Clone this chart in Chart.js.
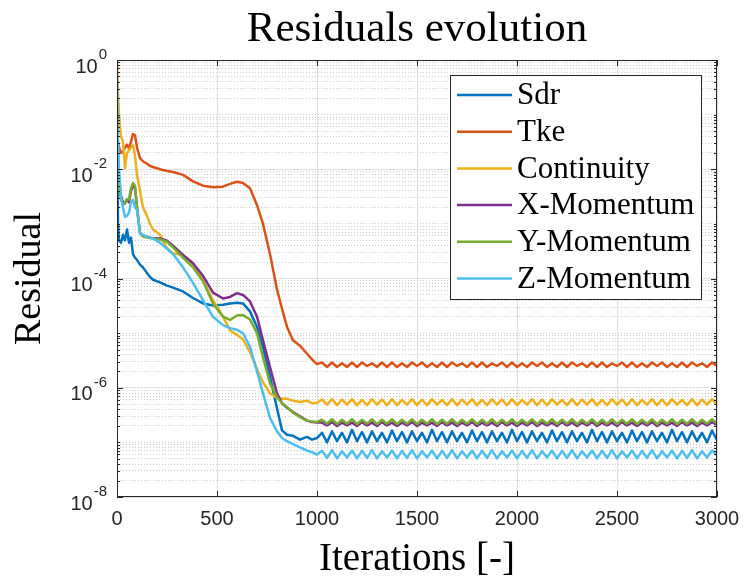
<!DOCTYPE html>
<html>
<head>
<meta charset="utf-8">
<script src="https://cdn.jsdelivr.net/npm/chart.js@4/dist/chart.umd.min.js"></script>
<style>
  html, body { margin: 0; padding: 0; background: #fff; }
  canvas { display: block; }
</style>
</head>
<body>
<canvas id="residuals" width="747" height="582"></canvas>
<script>
//DATA BELOW
const seriesNames = ['Sdr', 'Tke', 'Continuity', 'X-Momentum', 'Y-Momentum', 'Z-Momentum'];
const xTicks = [0, 500, 1000, 1500, 2000, 2500, 3000];
const yTickExponents = [0, -2, -4, -6, -8];

const iterations = [0, 5, 10, 20, 30, 40, 50, 60, 70, 80,
  90, 100, 115, 130, 150, 165, 180, 215, 250, 280,
  330, 380, 430, 480, 530, 565, 600, 630, 665, 700,
  730, 765, 800, 825, 850, 880, 915, 950, 975,
  1000, 1025, 1050, 1075, 1100, 1125, 1150, 1175, 1200, 1225,
  1250, 1275, 1300, 1325, 1350, 1375, 1400, 1425, 1450, 1475,
  1500, 1525, 1550, 1575, 1600, 1625, 1650, 1675, 1700, 1725,
  1750, 1775, 1800, 1825, 1850, 1875, 1900, 1925, 1950, 1975,
  2000, 2025, 2050, 2075, 2100, 2125, 2150, 2175, 2200, 2225,
  2250, 2275, 2300, 2325, 2350, 2375, 2400, 2425, 2450, 2475,
  2500, 2525, 2550, 2575, 2600, 2625, 2650, 2675, 2700, 2725,
  2750, 2775, 2800, 2825, 2850, 2875, 2900, 2925, 2950, 2975,
  3000];

const sdr = [4.0e-2, 1.0e-3, 5.0e-4, 4.5e-4, 6.3e-4, 5.0e-4, 7.9e-4, 4.5e-4, 5.6e-4, 2.8e-4,
  2.4e-4, 2.2e-4, 1.8e-4, 1.6e-4, 1.26e-4, 1.07e-4, 9.5e-5, 8.5e-5, 7.4e-5, 6.8e-5,
  5.8e-5, 4.4e-5, 3.5e-5, 3.2e-5, 3.3e-5, 3.5e-5, 3.6e-5, 3.5e-5, 2.5e-5, 1.3e-5,
  5.6e-6, 1.6e-6, 4.2e-7, 1.66e-7, 1.38e-7, 1.32e-7, 1.12e-7, 1.26e-7, 1.12e-7,
  1.2e-7, 1.5e-7, 1.0e-7, 1.6e-7, 1.05e-7, 1.5e-7, 1.0e-7, 1.7e-7, 1.05e-7, 1.55e-7,
  1.0e-7, 1.6e-7, 1.05e-7, 1.5e-7, 1.0e-7, 1.65e-7, 1.05e-7, 1.55e-7, 1.0e-7, 1.6e-7,
  1.05e-7, 1.5e-7, 1.0e-7, 1.7e-7, 1.05e-7, 1.55e-7, 1.0e-7, 1.6e-7, 1.05e-7, 1.5e-7,
  1.0e-7, 1.65e-7, 1.05e-7, 1.55e-7, 1.0e-7, 1.6e-7, 1.05e-7, 1.5e-7, 1.0e-7, 1.7e-7,
  1.05e-7, 1.55e-7, 1.0e-7, 1.6e-7, 1.05e-7, 1.5e-7, 1.0e-7, 1.65e-7, 1.05e-7, 1.55e-7,
  1.0e-7, 1.6e-7, 1.05e-7, 1.5e-7, 1.0e-7, 1.7e-7, 1.05e-7, 1.55e-7, 1.0e-7, 1.6e-7,
  1.05e-7, 1.5e-7, 1.0e-7, 1.65e-7, 1.05e-7, 1.55e-7, 1.0e-7, 1.6e-7, 1.05e-7, 1.5e-7,
  1.0e-7, 1.7e-7, 1.05e-7, 1.55e-7, 1.0e-7, 1.6e-7, 1.05e-7, 1.5e-7, 1.0e-7, 1.65e-7,
  1.1e-7];

const tke = [4.3e-2, 3.2e-2, 2.5e-2, 2.0e-2, 2.1e-2, 2.5e-2, 2.8e-2, 2.4e-2, 3.2e-2, 4.4e-2,
  4.2e-2, 2.5e-2, 1.6e-2, 1.4e-2, 1.26e-2, 1.15e-2, 1.1e-2, 1.0e-2, 9.3e-3, 8.9e-3,
  7.9e-3, 6.0e-3, 5.0e-3, 4.7e-3, 4.8e-3, 5.4e-3, 5.9e-3, 5.6e-3, 4.5e-3, 2.2e-3,
  1.0e-3, 2.8e-4, 6.3e-5, 2.8e-5, 1.3e-5, 7.4e-6, 5.9e-6, 4.2e-6, 3.3e-6,
  2.7e-6, 2.9e-6, 2.4e-6, 2.9e-6, 2.4e-6, 2.8e-6, 2.4e-6, 2.9e-6, 2.4e-6, 2.9e-6,
  2.5e-6, 2.8e-6, 2.4e-6, 2.9e-6, 2.4e-6, 2.9e-6, 2.4e-6, 2.8e-6, 2.4e-6, 2.9e-6,
  2.5e-6, 2.9e-6, 2.4e-6, 2.8e-6, 2.4e-6, 2.9e-6, 2.4e-6, 2.9e-6, 2.5e-6, 2.8e-6,
  2.4e-6, 2.9e-6, 2.4e-6, 2.9e-6, 2.4e-6, 2.8e-6, 2.5e-6, 2.9e-6, 2.4e-6, 2.9e-6,
  2.4e-6, 2.8e-6, 2.4e-6, 2.9e-6, 2.5e-6, 2.9e-6, 2.4e-6, 2.8e-6, 2.4e-6, 2.9e-6,
  2.4e-6, 2.9e-6, 2.5e-6, 2.8e-6, 2.4e-6, 2.9e-6, 2.4e-6, 2.9e-6, 2.4e-6, 2.8e-6,
  2.5e-6, 2.9e-6, 2.4e-6, 2.9e-6, 2.4e-6, 2.8e-6, 2.4e-6, 2.9e-6, 2.5e-6, 2.9e-6,
  2.4e-6, 2.8e-6, 2.4e-6, 2.9e-6, 2.4e-6, 2.9e-6, 2.5e-6, 2.8e-6, 2.4e-6, 2.9e-6,
  2.5e-6];

const continuity = [1.0, 2.5e-1, 1.0e-1, 4.0e-2, 3.2e-2, 1.05e-2, 2.0e-2, 2.2e-2, 2.5e-2, 2.75e-2,
  1.8e-2, 7.9e-3, 4.0e-3, 2.0e-3, 1.4e-3, 1.0e-3, 7.9e-4, 6.3e-4, 3.6e-4, 2.9e-4,
  2.7e-4, 1.9e-4, 9.3e-5, 4.0e-5, 2.0e-5, 1.12e-5, 9.3e-6, 7.6e-6, 4.5e-6, 2.2e-6,
  1.26e-6, 7.9e-7, 6.6e-7, 6.3e-7, 6.3e-7, 5.8e-7, 5.5e-7, 5.8e-7, 5.2e-7,
  5.3e-7, 6.1e-7, 4.9e-7, 6.2e-7, 4.8e-7, 6.1e-7, 4.9e-7, 6.2e-7, 4.8e-7, 6.0e-7,
  4.8e-7, 6.2e-7, 4.9e-7, 6.1e-7, 4.8e-7, 6.2e-7, 4.8e-7, 6.0e-7, 4.9e-7, 6.2e-7,
  4.8e-7, 6.1e-7, 4.8e-7, 6.2e-7, 4.9e-7, 6.0e-7, 4.8e-7, 6.2e-7, 4.8e-7, 6.1e-7,
  4.9e-7, 6.2e-7, 4.8e-7, 6.0e-7, 4.8e-7, 6.2e-7, 4.9e-7, 6.1e-7, 4.8e-7, 6.2e-7,
  4.8e-7, 6.0e-7, 4.9e-7, 6.2e-7, 4.8e-7, 6.1e-7, 4.8e-7, 6.2e-7, 4.9e-7, 6.0e-7,
  4.8e-7, 6.2e-7, 4.8e-7, 6.1e-7, 4.9e-7, 6.2e-7, 4.8e-7, 6.0e-7, 4.8e-7, 6.2e-7,
  4.9e-7, 6.1e-7, 4.8e-7, 6.2e-7, 4.8e-7, 6.0e-7, 4.9e-7, 6.2e-7, 4.8e-7, 6.1e-7,
  4.8e-7, 6.2e-7, 4.9e-7, 6.0e-7, 4.8e-7, 6.2e-7, 4.8e-7, 6.1e-7, 4.9e-7, 6.2e-7,
  5.0e-7];

const xMomentum = [1.0e-1, 1.6e-2, 6.3e-3, 3.2e-3, 2.5e-3, 2.4e-3, 2.8e-3, 2.5e-3, 4.0e-3, 5.0e-3,
  4.5e-3, 2.0e-3, 6.8e-4, 6.0e-4, 5.8e-4, 5.6e-4, 5.5e-4, 5.4e-4, 4.9e-4, 4.0e-4,
  2.7e-4, 1.9e-4, 1.12e-4, 5.5e-5, 4.3e-5, 4.6e-5, 5.4e-5, 5.0e-5, 3.8e-5, 2.0e-5,
  7.4e-6, 2.4e-6, 7.9e-7, 5.2e-7, 4.3e-7, 3.6e-7, 3.0e-7, 2.5e-7, 2.35e-7,
  2.3e-7, 2.3e-7, 2.05e-7, 2.35e-7, 2.0e-7, 2.3e-7, 2.05e-7, 2.3e-7, 2.0e-7, 2.35e-7,
  2.05e-7, 2.3e-7, 2.0e-7, 2.35e-7, 2.05e-7, 2.3e-7, 2.0e-7, 2.3e-7, 2.05e-7, 2.35e-7,
  2.0e-7, 2.3e-7, 2.05e-7, 2.3e-7, 2.0e-7, 2.35e-7, 2.05e-7, 2.3e-7, 2.0e-7, 2.3e-7,
  2.05e-7, 2.35e-7, 2.0e-7, 2.3e-7, 2.05e-7, 2.3e-7, 2.0e-7, 2.35e-7, 2.05e-7, 2.3e-7,
  2.0e-7, 2.3e-7, 2.05e-7, 2.35e-7, 2.0e-7, 2.3e-7, 2.05e-7, 2.3e-7, 2.0e-7, 2.35e-7,
  2.05e-7, 2.3e-7, 2.0e-7, 2.3e-7, 2.05e-7, 2.35e-7, 2.0e-7, 2.3e-7, 2.05e-7, 2.3e-7,
  2.0e-7, 2.35e-7, 2.05e-7, 2.3e-7, 2.0e-7, 2.3e-7, 2.05e-7, 2.35e-7, 2.0e-7, 2.3e-7,
  2.05e-7, 2.3e-7, 2.0e-7, 2.35e-7, 2.05e-7, 2.3e-7, 2.0e-7, 2.3e-7, 2.05e-7, 2.35e-7,
  2.1e-7];

const yMomentum = [1.0e-1, 1.26e-2, 5.0e-3, 2.8e-3, 2.2e-3, 2.4e-3, 2.8e-3, 2.8e-3, 4.5e-3, 5.6e-3,
  5.0e-3, 2.0e-3, 6.8e-4, 5.9e-4, 5.6e-4, 5.5e-4, 5.4e-4, 5.2e-4, 4.7e-4, 3.7e-4,
  2.4e-4, 1.6e-4, 8.9e-5, 3.5e-5, 2.0e-5, 1.74e-5, 2.1e-5, 2.14e-5, 1.78e-5, 1.0e-5,
  3.6e-6, 1.2e-6, 6.8e-7, 5.2e-7, 4.4e-7, 3.5e-7, 2.9e-7, 2.5e-7, 2.4e-7,
  2.35e-7, 2.6e-7, 2.2e-7, 2.65e-7, 2.15e-7, 2.6e-7, 2.2e-7, 2.65e-7, 2.15e-7, 2.6e-7,
  2.2e-7, 2.65e-7, 2.15e-7, 2.6e-7, 2.2e-7, 2.65e-7, 2.15e-7, 2.6e-7, 2.2e-7, 2.65e-7,
  2.15e-7, 2.6e-7, 2.2e-7, 2.65e-7, 2.15e-7, 2.6e-7, 2.2e-7, 2.65e-7, 2.15e-7, 2.6e-7,
  2.2e-7, 2.65e-7, 2.15e-7, 2.6e-7, 2.2e-7, 2.65e-7, 2.15e-7, 2.6e-7, 2.2e-7, 2.65e-7,
  2.15e-7, 2.6e-7, 2.2e-7, 2.65e-7, 2.15e-7, 2.6e-7, 2.2e-7, 2.65e-7, 2.15e-7, 2.6e-7,
  2.2e-7, 2.65e-7, 2.15e-7, 2.6e-7, 2.2e-7, 2.65e-7, 2.15e-7, 2.6e-7, 2.2e-7, 2.65e-7,
  2.15e-7, 2.6e-7, 2.2e-7, 2.65e-7, 2.15e-7, 2.6e-7, 2.2e-7, 2.65e-7, 2.15e-7, 2.6e-7,
  2.2e-7, 2.65e-7, 2.15e-7, 2.6e-7, 2.2e-7, 2.65e-7, 2.15e-7, 2.6e-7, 2.2e-7, 2.65e-7,
  2.2e-7];

const zMomentum = [4.7e-1, 3.4e-2, 1.0e-2, 3.2e-3, 2.0e-3, 1.35e-3, 1.4e-3, 1.6e-3, 2.5e-3, 2.75e-3,
  2.0e-3, 1.8e-3, 6.8e-4, 6.3e-4, 5.9e-4, 5.6e-4, 5.4e-4, 4.5e-4, 3.5e-4, 2.8e-4,
  1.6e-4, 8.3e-5, 4.0e-5, 2.0e-5, 1.4e-5, 1.23e-5, 1.15e-5, 1.0e-5, 5.6e-6, 2.0e-6,
  7.9e-7, 2.8e-7, 1.6e-7, 1.2e-7, 1.05e-7, 9.3e-8, 8.1e-8, 7.1e-8, 6.6e-8,
  6.0e-8, 7.0e-8, 5.2e-8, 7.2e-8, 5.1e-8, 6.9e-8, 5.3e-8, 7.1e-8, 5.1e-8, 7.0e-8,
  5.2e-8, 7.2e-8, 5.1e-8, 6.9e-8, 5.3e-8, 7.1e-8, 5.1e-8, 7.0e-8, 5.2e-8, 7.2e-8,
  5.1e-8, 6.9e-8, 5.3e-8, 7.1e-8, 5.1e-8, 7.0e-8, 5.2e-8, 7.2e-8, 5.1e-8, 6.9e-8,
  5.3e-8, 7.1e-8, 5.1e-8, 7.0e-8, 5.2e-8, 7.2e-8, 5.1e-8, 6.9e-8, 5.3e-8, 7.1e-8,
  5.1e-8, 7.0e-8, 5.2e-8, 7.2e-8, 5.1e-8, 6.9e-8, 5.3e-8, 7.1e-8, 5.1e-8, 7.0e-8,
  5.2e-8, 7.2e-8, 5.1e-8, 6.9e-8, 5.3e-8, 7.1e-8, 5.1e-8, 7.0e-8, 5.2e-8, 7.2e-8,
  5.1e-8, 6.9e-8, 5.3e-8, 7.1e-8, 5.1e-8, 7.0e-8, 5.2e-8, 7.2e-8, 5.1e-8, 6.9e-8,
  5.3e-8, 7.1e-8, 5.1e-8, 7.0e-8, 5.2e-8, 7.2e-8, 5.1e-8, 6.9e-8, 5.3e-8, 7.1e-8,
  5.8e-8];

const seriesValues = [sdr, tke, continuity, xMomentum, yMomentum, zMomentum];
//DATA ABOVE

//====================================================

//STYLE BELOW
const colors = ['#0072BD', '#D95319', '#EDB120', '#7E2F8E', '#77AC30', '#4DBEEE'];
const axisColor = '#262626';
const majorGrid = '#dfdfdf';
const minorGrid = '#cdcdcd';
const serif = "'Liberation Serif', 'DejaVu Serif', serif";
const sans = "'Liberation Sans', Arial, sans-serif";
//STYLE ABOVE

//====================================================

//FUNCTIONS BELOW
function LogTicks() {
  // every 1..9 x 10^k between 1e-8 and 1e0
  let ticks = [];
  for (let e = -8; e < 0; e++) {
    for (let m = 1; m < 10; m++) {
      ticks.push(m * Math.pow(10, e));
    }
  }
  ticks.push(1);
  return ticks;
}

function IsMajor(v) {
  let l = Math.log10(v);
  let r = Math.round(l);
  return Math.abs(l - r) < 1e-6 && yTickExponents.includes(r);
}

const matlabAxes = {
  id: 'matlabAxes',
  afterDraw(chart) {
    const { ctx, chartArea: a, scales: { x, y } } = chart;
    ctx.save();

    // box
    ctx.strokeStyle = axisColor;
    ctx.lineWidth = 1;
    ctx.strokeRect(Math.round(a.left) + 0.5, Math.round(a.top) + 0.5,
      Math.round(a.right - a.left) - 1, Math.round(a.bottom - a.top) - 1);

    // inward ticks
    ctx.beginPath();
    x.ticks.forEach(t => {
      let px = Math.round(x.getPixelForValue(t.value)) + 0.5;
      ctx.moveTo(px, a.bottom); ctx.lineTo(px, a.bottom - 6);
      ctx.moveTo(px, a.top); ctx.lineTo(px, a.top + 6);
    });
    y.ticks.forEach(t => {
      let py = Math.round(y.getPixelForValue(t.value)) + 0.5;
      let len = IsMajor(t.value) ? 6 : 3;
      ctx.moveTo(a.left, py); ctx.lineTo(a.left + len, py);
      ctx.moveTo(a.right, py); ctx.lineTo(a.right - len, py);
    });
    ctx.stroke();

    // y labels 10^k
    ctx.fillStyle = axisColor;
    ctx.textAlign = 'right';
    ctx.textBaseline = 'middle';
    let right = a.left - 10;
    yTickExponents.forEach(e => {
      let py = y.getPixelForValue(Math.pow(10, e));
      let expText = e === 0 ? '0' : '-' + Math.abs(e);
      ctx.font = '15px ' + sans;
      let w = ctx.measureText(expText).width;
      ctx.fillText(expText, right, py - 5);
      ctx.font = '20px ' + sans;
      ctx.fillText('10', right - w - 1, py + 7);
    });

    // legend
    let lx = a.right - 267, ly = a.top + 15, lw = 251, lh = 224;
    ctx.fillStyle = '#fff';
    ctx.fillRect(lx, ly, lw, lh);
    ctx.strokeStyle = axisColor;
    ctx.strokeRect(Math.round(lx) + 0.5, Math.round(ly) + 0.5, lw, lh);
    ctx.textAlign = 'left';
    ctx.font = '31px ' + serif;
    chart.data.datasets.forEach((ds, i) => {
      let ry = ly + 20 + i * 36.7;
      ctx.strokeStyle = ds.borderColor;
      ctx.lineWidth = 2.5;
      ctx.beginPath();
      ctx.moveTo(lx + 7, ry); ctx.lineTo(lx + 62, ry);
      ctx.stroke();
      ctx.fillStyle = '#000';
      ctx.fillText(ds.label, lx + 67, ry + 1);
    });

    ctx.restore();
  }
};

function BuildDatasets() {
  return seriesNames.map((name, i) => ({
    label: name,
    data: iterations.map((it, j) => ({ x: it, y: seriesValues[i][j] })),
    borderColor: colors[i],
    backgroundColor: colors[i],
    borderWidth: 2.5,
    borderJoinStyle: 'round',
    borderCapStyle: 'round',
    pointRadius: 0,
    tension: 0,
    fill: false,
    order: seriesNames.length - i // last series on top, like MATLAB
  }));
}

function Main() {
  const ctx = document.getElementById('residuals');
  new Chart(ctx, {
    type: 'line',
    data: { datasets: BuildDatasets() },
    options: {
      responsive: false,
      animation: false,
      events: [],
      layout: { padding: { left: 0, right: 30, top: 0, bottom: 0 } },
      plugins: {
        legend: { display: false },
        tooltip: { enabled: false },
        title: {
          display: true,
          text: 'Residuals evolution',
          color: '#000',
          fullSize: false,
          font: { family: serif, size: 43, weight: 'normal', lineHeight: 1 },
          padding: { top: 8, bottom: 9 }
        }
      },
      scales: {
        x: {
          type: 'linear',
          min: 0,
          max: 3000,
          afterBuildTicks: s => { s.ticks = xTicks.map(v => ({ value: v })); },
          afterFit: s => { s.height = 85; s.paddingLeft = 0; s.paddingRight = 0; },
          ticks: {
            color: axisColor,
            font: { family: sans, size: 20 },
            padding: 10,
            maxRotation: 0,
            autoSkip: false,
            callback: v => String(v)
          },
          grid: { color: majorGrid, drawTicks: false },
          border: { display: false },
          title: {
            display: true,
            text: 'Iterations [-]',
            color: '#000',
            font: { family: serif, size: 39, lineHeight: 1 },
            padding: { top: 0, bottom: 3 }
          }
        },
        y: {
          type: 'logarithmic',
          min: 1e-8,
          max: 1,
          afterBuildTicks: s => { s.ticks = LogTicks().map(v => ({ value: v })); },
          afterFit: s => { s.width = 117; },
          ticks: { display: false },
          grid: {
            drawTicks: false,
            color: c => (c.tick && IsMajor(c.tick.value)) ? majorGrid : minorGrid
          },
          border: {
            display: false,
            dash: c => (c.tick && !IsMajor(c.tick.value)) ? [1, 2] : []
          },
          title: {
            display: true,
            text: 'Residual',
            color: '#000',
            font: { family: serif, size: 38, lineHeight: 1 },
            padding: { top: 11, bottom: 0 }
          }
        }
      }
    },
    plugins: [matlabAxes]
  });
}
//FUNCTIONS ABOVE

Main();
</script>
</body>
</html>
